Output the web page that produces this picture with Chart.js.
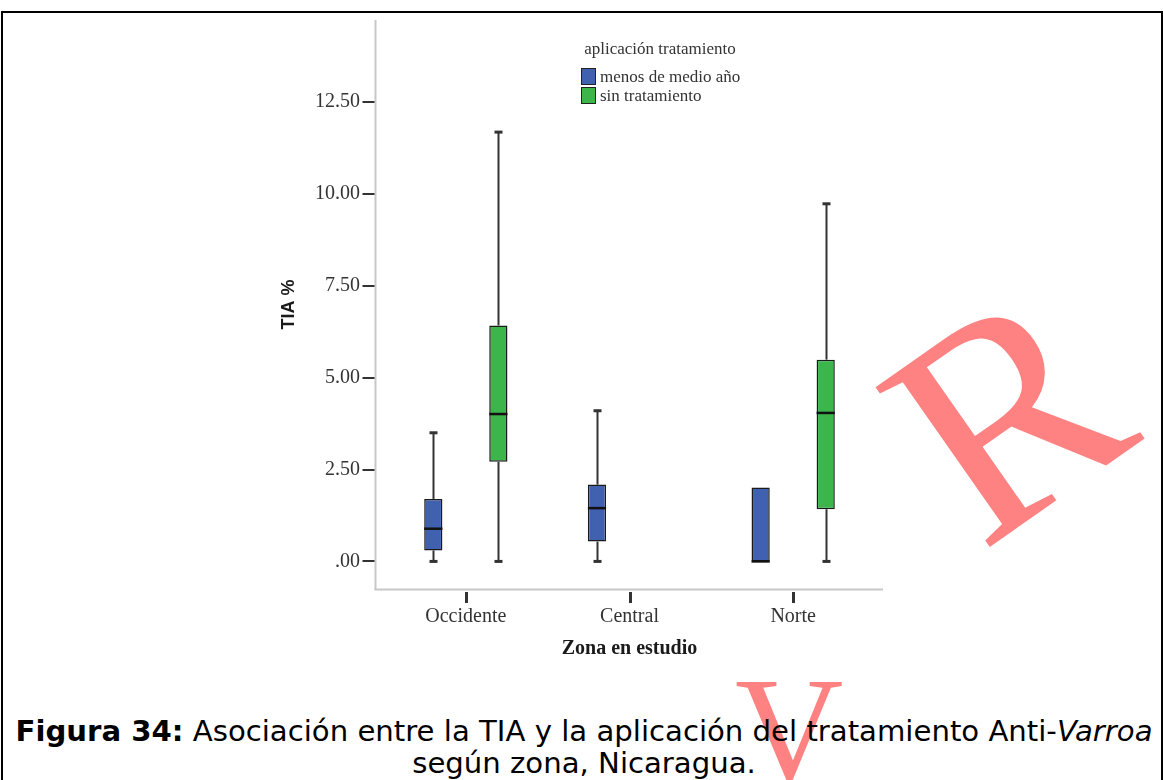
<!DOCTYPE html>
<html>
<head>
<meta charset="utf-8">
<script src="https://cdn.jsdelivr.net/npm/chart.js@4.4.1/dist/chart.umd.min.js"></script>
<style>
  html, body { margin: 0; padding: 0; background: #fff; }
  body { width: 1163px; height: 780px; position: relative; overflow: hidden; }
  #frame { position: absolute; left: 1px; top: 11px; width: 1158px; height: 800px;
           border-top: 2px solid #000; border-left: 2px solid #000; border-right: 2px solid #000; }
  #wrap { position: absolute; left: 0; top: 0; width: 1163px; height: 680px; z-index: 2; }
  #legend { position: absolute; left: 560px; top: 39px; z-index: 3; font-family: "Liberation Serif", serif;
            font-size: 17px; color: #333; }
  #legend .ttl { position: absolute; left: 0; width: 200px; top: 0; text-align: center; white-space: nowrap; }
  #legend .item { position: absolute; left: 21px; white-space: nowrap; height: 17px; line-height: 17px; }
  #legend .sw { position: absolute; left: 0; top: 0; width: 13px; height: 15px; border: 1px solid #222; }
  #legend .lbl { position: absolute; left: 19px; top: 0; }
  #caption { position: absolute; left: 0; width: 1168px; top: 716px; text-align: center; z-index: 3;
             font-family: "DejaVu Sans", sans-serif; color: #000; white-space: nowrap; line-height: 32px; }
  #caption div { display: inline-block; transform-origin: 50% 50%; }
  .wm { position: absolute; z-index: 1; color: #ff8282; font-family: "Liberation Serif", serif; line-height: 1;
        text-align: center; }
</style>
</head>
<body>
<div id="frame"></div>
<div class="wm" id="wmV" style="left:735px; top:655px; font-size:150px;">V</div>
<div class="wm" id="wmR" style="left:868px; top:262px; width:280px; height:310px; font-size:300px; transform: rotate(-35deg); transform-origin: 50% 50%;">R</div>
<div id="wrap"><canvas id="c"></canvas></div>
<div id="legend"></div>
<div id="caption"></div>
<script>
// ---------- data ----------
const categories = ['Occidente', 'Central', 'Norte'];
const seriesNames = ['menos de medio año', 'sin tratamiento'];
const seriesColors = ['#4060b0', '#3cb54b'];

// five-number summaries (TIA %)
const blueMin = [0.00, 0.00, 0.00];
const blueQ1  = [0.30, 0.54, 0.00];
const blueMed = [0.89, 1.45, 0.00];
const blueQ3  = [1.70, 2.09, 2.01];
const blueMax = [3.50, 4.10, 2.01];

const greenMin = [0.00, null, 0.00];
const greenQ1  = [2.71, null, 1.42];
const greenMed = [4.01, null, 4.04];
const greenQ3  = [6.42, null, 5.49];
const greenMax = [11.68, null, 9.73];

const yTickValues = [0, 2.5, 5, 7.5, 10, 12.5];
const yTickLabels = ['.00', '2.50', '5.00', '7.50', '10.00', '12.50'];
const yMin = -0.75, yMax = 14.73;

const yTitle = 'TIA %';
const xTitle = 'Zona en estudio';
const legendTitle = 'aplicación tratamiento';
const captionBold = 'Figura 34:';
const captionRest1 = ' Asociación entre la TIA y la aplicación del tratamiento Anti-';
const captionItalic = 'Varroa';
const captionLine2 = 'según zona, Nicaragua.';

const stats = [
  { min: blueMin, q1: blueQ1, med: blueMed, q3: blueQ3, max: blueMax },
  { min: greenMin, q1: greenQ1, med: greenMed, q3: greenQ3, max: greenMax }
];
const boxData = stats.map(s => s.q1.map((v, i) => (v === null ? null : [v, s.q3[i]])));

// ---------- plugins ----------
const spssAxes = {
  id: 'spssAxes',
  beforeDatasetsDraw(chart) {
    const { ctx, chartArea: a, scales: { x, y } } = chart;
    const ax = a.left - 8.5;
    ctx.save();
    ctx.strokeStyle = '#c8c8c8';
    ctx.lineWidth = 2;
    ctx.beginPath(); ctx.moveTo(ax, a.top); ctx.lineTo(ax, a.bottom + 1); ctx.stroke();
    ctx.beginPath(); ctx.moveTo(ax - 1, a.bottom + 0.5); ctx.lineTo(a.right + 8, a.bottom + 0.5); ctx.stroke();
    ctx.strokeStyle = '#333';
    ctx.lineWidth = 2;
    y.ticks.forEach(t => {
      const py = Math.round(y.getPixelForValue(t.value));
      ctx.beginPath(); ctx.moveTo(ax - 13, py); ctx.lineTo(ax - 1, py); ctx.stroke();
    });
    ctx.lineWidth = 3;
    categories.forEach((c, i) => {
      const px = Math.round(x.getPixelForValue(i)) + 0.5;
      ctx.beginPath(); ctx.moveTo(px, a.bottom + 3); ctx.lineTo(px, a.bottom + 14); ctx.stroke();
    });
    // whiskers
    chart.data.datasets.forEach((ds, di) => {
      const meta = chart.getDatasetMeta(di);
      const s = stats[di];
      meta.data.forEach((bar, i) => {
        if (s.q1[i] === null) return;
        const bx = Math.round(bar.x) + 0.5;
        ctx.strokeStyle = '#333';
        ctx.lineWidth = 2;
        if (s.max[i] > s.q3[i]) {
          ctx.beginPath(); ctx.moveTo(bx, y.getPixelForValue(s.q3[i])); ctx.lineTo(bx, y.getPixelForValue(s.max[i])); ctx.stroke();
          ctx.lineWidth = 3;
          const py = y.getPixelForValue(s.max[i]);
          ctx.beginPath(); ctx.moveTo(bx - 4, py); ctx.lineTo(bx + 4, py); ctx.stroke();
          ctx.lineWidth = 2;
        }
        if (s.min[i] < s.q1[i]) {
          ctx.beginPath(); ctx.moveTo(bx, y.getPixelForValue(s.q1[i])); ctx.lineTo(bx, y.getPixelForValue(s.min[i])); ctx.stroke();
          ctx.lineWidth = 3;
          const py = y.getPixelForValue(s.min[i]);
          ctx.beginPath(); ctx.moveTo(bx - 4, py); ctx.lineTo(bx + 4, py); ctx.stroke();
        }
      });
    });
    ctx.restore();
  },
  afterDatasetsDraw(chart) {
    const { ctx, scales: { y } } = chart;
    ctx.save();
    ctx.strokeStyle = '#111';
    ctx.lineWidth = 2.5;
    chart.data.datasets.forEach((ds, di) => {
      const meta = chart.getDatasetMeta(di);
      const s = stats[di];
      meta.data.forEach((bar, i) => {
        if (s.med[i] === null) return;
        const py = y.getPixelForValue(s.med[i]);
        ctx.beginPath(); ctx.moveTo(bar.x - bar.width / 2, py); ctx.lineTo(bar.x + bar.width / 2, py); ctx.stroke();
      });
    });
    ctx.restore();
  }
};

const chart = new Chart(document.getElementById('c'), {
  type: 'bar',
  data: {
    labels: categories,
    datasets: seriesNames.map((name, di) => ({
      label: name,
      data: boxData[di],
      backgroundColor: seriesColors[di],
      borderColor: '#1a1a1a',
      borderWidth: 1.5,
      borderSkipped: false,
      categoryPercentage: 0.795,
      barPercentage: 0.28
    }))
  },
  options: {
    responsive: true,
    maintainAspectRatio: false,
    animation: false,
    layout: { padding: { left: 0, right: 288, top: 20, bottom: 0 } },
    plugins: { legend: { display: false }, tooltip: { enabled: false } },
    scales: {
      x: {
        grid: { display: false, drawTicks: false },
        border: { display: false },
        afterFit: s => { s.height = 91; s.paddingLeft = 0; s.paddingRight = 0; },
        ticks: { padding: 16, color: '#333', font: { family: 'Liberation Serif', size: 20 } },
        title: { display: true, text: xTitle, color: '#1a1a1a',
                 font: { family: 'Liberation Serif', size: 20, weight: 'bold' }, padding: { top: 0, bottom: 19 } }
      },
      y: {
        min: yMin, max: yMax,
        grid: { display: false, drawTicks: false },
        border: { display: false },
        afterFit: s => { s.width = 384; s.paddingTop = 0; s.paddingBottom = 0; },
        afterBuildTicks: s => { s.ticks = yTickValues.map(v => ({ value: v })); },
        ticks: { padding: 24, color: '#333', font: { family: 'Liberation Serif', size: 20 },
                 callback: (v, i) => yTickLabels[i] },
        title: { display: true, text: yTitle, color: '#1a1a1a',
                 font: { family: 'Liberation Sans', size: 18, weight: 'bold' }, padding: { top: 278, bottom: 0 } }
      }
    }
  },
  plugins: [spssAxes]
});

// ---------- legend (HTML, built from the datasets) ----------
(function () {
  const lg = document.getElementById('legend');
  const t = document.createElement('div');
  t.className = 'ttl'; t.textContent = legendTitle; lg.appendChild(t);
  chart.data.datasets.forEach((ds, i) => {
    const it = document.createElement('div');
    it.className = 'item';
    it.style.top = (29 + i * 19) + 'px';
    const sw = document.createElement('span'); sw.className = 'sw'; sw.style.background = ds.backgroundColor;
    const lb = document.createElement('span'); lb.className = 'lbl'; lb.textContent = ds.label;
    it.appendChild(sw); it.appendChild(lb); lg.appendChild(it);
  });
})();

// ---------- caption ----------
(function () {
  const cap = document.getElementById('caption');
  cap.style.fontSize = '28px';
  const l1 = document.createElement('div');
  const b = document.createElement('b'); b.textContent = captionBold;
  const r = document.createTextNode(captionRest1);
  const it = document.createElement('i'); it.textContent = captionItalic;
  l1.appendChild(b); l1.appendChild(r); l1.appendChild(it);
  const l2 = document.createElement('div'); l2.textContent = captionLine2;
  cap.appendChild(l1); cap.appendChild(document.createElement('br')); cap.appendChild(l2);
  const w = l1.getBoundingClientRect().width;
  const sx = 1137 / w;
  l1.style.transform = 'scaleX(' + sx.toFixed(4) + ')';
  l2.style.transform = 'scaleX(' + sx.toFixed(4) + ')';
})();
</script>
</body>
</html>
